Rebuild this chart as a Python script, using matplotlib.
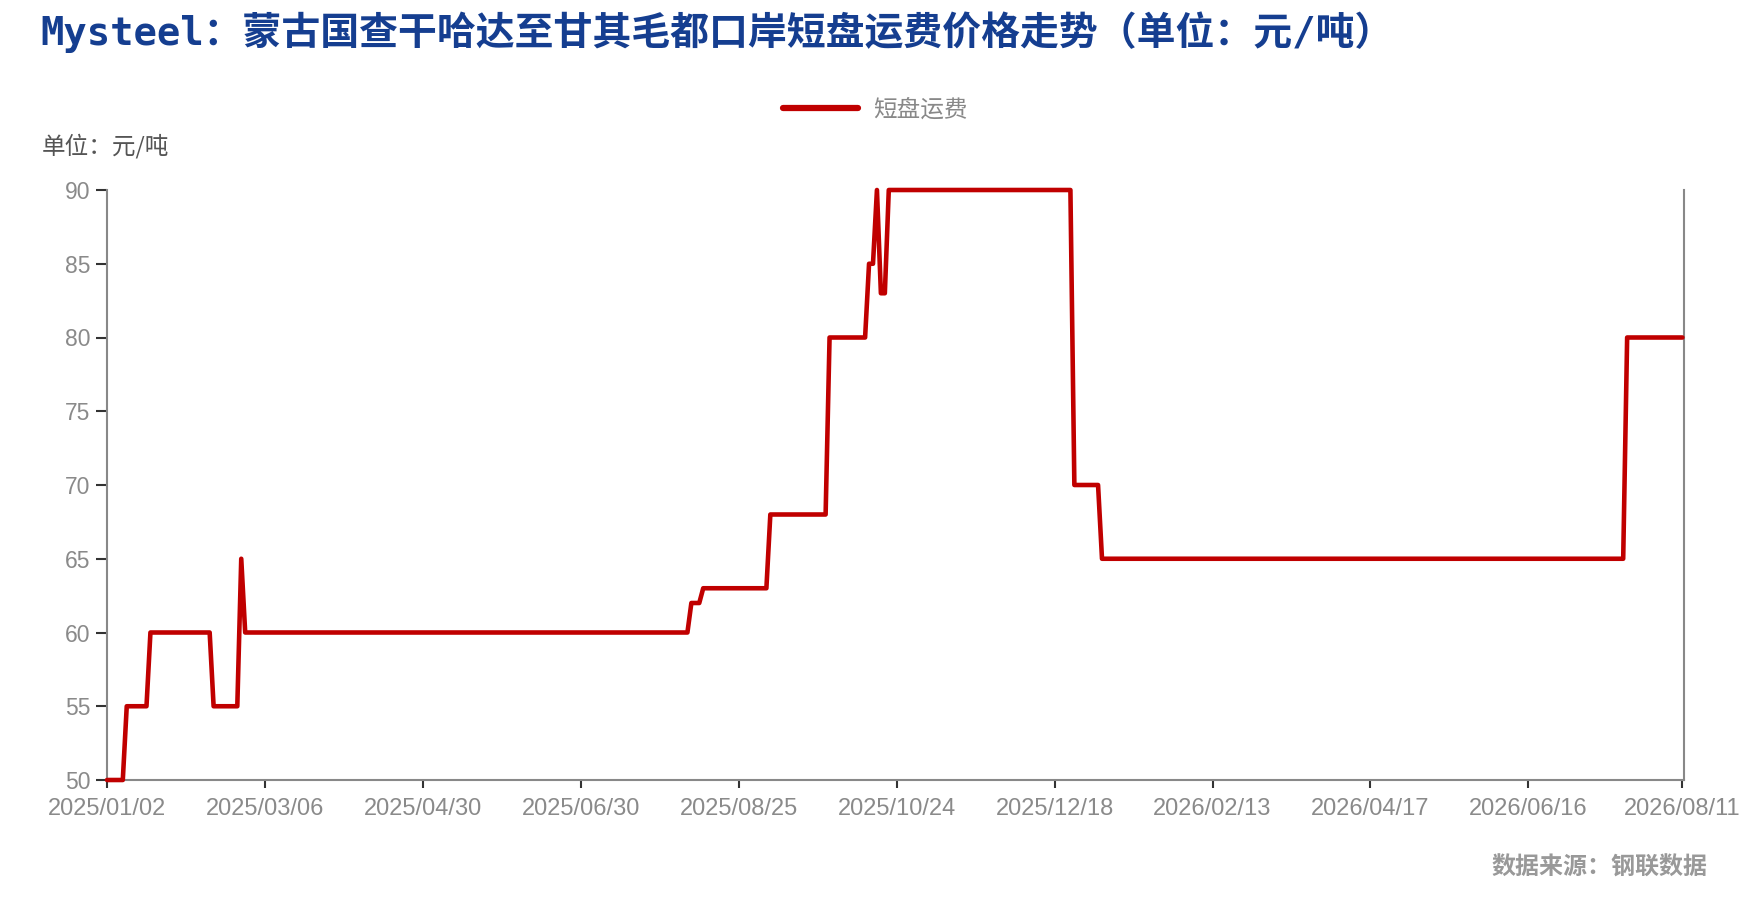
import numpy as np
import matplotlib
matplotlib.use('Agg')
import matplotlib.pyplot as plt
from matplotlib.lines import Line2D

# Step series: each run is a value held for a number of consecutive data points
run_values = [50, 55, 60, 55, 65, 60, 62, 63, 68, 80, 85, 90, 83, 90, 70, 65, 80]
run_lengths = [5, 6, 16, 7, 1, 113, 3, 17, 15, 10, 2, 1, 2, 47, 7, 133, 15]

tick_labels = ['2025/01/02', '2025/03/06', '2025/04/30', '2025/06/30', '2025/08/25',
               '2025/10/24', '2025/12/18', '2026/02/13', '2026/04/17', '2026/06/16',
               '2026/08/11']
tick_step = 40

series_name = '短盘运费'
title = 'Mysteel：蒙古国查干哈达至甘其毛都口岸短盘运费价格走势（单位：元/吨）'
unit_label = '单位：元/吨'
source = '数据来源：钢联数据'

values = np.repeat(run_values, run_lengths)
x = np.arange(len(values))

W, H = 1750, 902
fig = plt.figure(figsize=(W / 100, H / 100), dpi=100)
ax = fig.add_axes([107 / W, 1 - 780 / H, (1684 - 107) / W, (780 - 190) / H])

line_color = '#C00000'
ax.plot(x, values, color=line_color, lw=3.3, solid_joinstyle='round',
        solid_capstyle='round', clip_on=False, zorder=3)

ax.set_ylim(50, 90)
ax.set_yticks(range(50, 91, 5))
ax.set_xlim(0, len(values) - 0.6)
# regular ticks every tick_step points, last label on the final data point
tick_pos = [i * tick_step for i in range(len(tick_labels) - 1)] + [len(values) - 1]
ax.set_xticks(tick_pos)
ax.set_xticklabels(tick_labels)

num_font = ['Liberation Sans', 'DejaVu Sans']
for lab in ax.get_yticklabels():
    lab.set_family(num_font)
    lab.set_fontsize(16.5)
    lab.set_color('#8a8a8a')
for lab in ax.get_xticklabels():
    lab.set_family(num_font)
    lab.set_fontsize(17)
    lab.set_color('#8a8a8a')

ax.tick_params(axis='y', length=8, width=1.5, color='#333333', pad=4)
ax.tick_params(axis='x', length=6, width=1.5, color='#333333', pad=7)

for s in ['left', 'bottom', 'right']:
    ax.spines[s].set_color('#888888')
    ax.spines[s].set_linewidth(1.5)
ax.spines['top'].set_visible(False)

cjk = ['Noto Sans CJK SC', 'DejaVu Sans']
fig.text(40 / W, 1 - 32 / H, title, family=['DejaVu Sans Mono', 'Noto Sans CJK SC'],
         fontsize=28, fontweight='bold', color='#153E90', ha='left', va='center')

fig.text(42 / W, 1 - 146 / H, unit_label, family=cjk, fontsize=17,
         color='#555555', ha='left', va='center')

handle = Line2D([], [], color=line_color, lw=4.5, solid_capstyle='round')
leg = fig.legend(handles=[handle], labels=[series_name], loc='center',
                 bbox_to_anchor=(875 / W, 1 - 110 / H), frameon=False,
                 handlelength=3.2, handletextpad=0.6,
                 prop={'family': cjk, 'size': 17})
for t in leg.get_texts():
    t.set_color('#888888')

fig.text(1708 / W, 1 - 868 / H, source, family=cjk, fontsize=17.3,
         fontweight='bold', color='#999999', ha='right', va='center')

fig.savefig('out.png', dpi=100, facecolor='white')
